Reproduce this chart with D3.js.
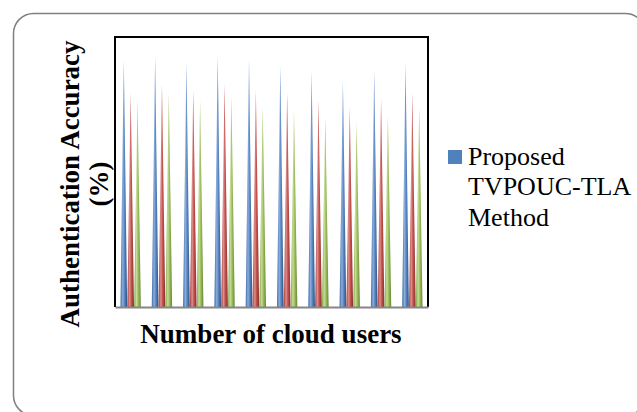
<!DOCTYPE html>
<html>
<head>
<meta charset="utf-8">
<script src="https://cdn.jsdelivr.net/npm/d3@7"></script>
<style>
  html, body { margin: 0; padding: 0; background: #fff; }
  svg { display: block; }
</style>
</head>
<body>
<svg id="chart" width="637" height="412"></svg>
<script>
// Authentication accuracy (%) for ten cloud-user groups, three methods per group
const categories = ["1", "2", "3", "4", "5", "6", "7", "8", "9", "10"];
const seriesNames = ["Proposed TVPOUC-TLA Method", "Method B", "Method C"];
const proposedValues = [91.7, 92.7, 90.5, 93.3, 91.7, 89.3, 87.3, 83.8, 87.5, 90.5];
const methodBValues  = [79.4, 82.6, 80.1, 82.9, 80.4, 79.1, 76.7, 74.2, 77.3, 79.4];
const methodCValues  = [76.7, 79.4, 76.4, 78.1, 74.4, 72.7, 70.3, 68.5, 71.1, 74.0];
const legendEntries = ["Proposed TVPOUC-TLA Method"];
const legendLines = ["Proposed", "TVPOUC-TLA", "Method"];

const seriesValues = [proposedValues, methodBValues, methodCValues];
const seriesColors = [
  ["#3f6ba6", "#8aaedc", "#5a86c2", "#2c4f80"],
  ["#a9403d", "#df8f8c", "#c2514e", "#83302d"],
  ["#86a648", "#c5dd98", "#9cbd5b", "#688535"]
];

const svg = d3.select("#chart");
const serif = "'Liberation Serif', 'Times New Roman', serif";

// outer chart frame
svg.append("rect")
  .attr("x", 13.5).attr("y", 13.5)
  .attr("width", 632).attr("height", 402)
  .attr("rx", 20).attr("ry", 20)
  .attr("fill", "#fff")
  .attr("stroke", "#7f7f7f")
  .attr("stroke-width", 1.5);

const plot = { left: 115, top: 37, right: 428, bottom: 307 };

const x = d3.scaleBand()
  .domain(categories)
  .range([plot.left, plot.right])
  .paddingInner(0.34)
  .paddingOuter(0.17);

const xs = d3.scaleBand()
  .domain(d3.range(seriesValues.length))
  .range([0, x.bandwidth()])
  .padding(0.02);

const y = d3.scaleLinear().domain([0, 100]).range([plot.bottom, plot.top]);

// cone shading gradients
const defs = svg.append("defs");
seriesColors.forEach((c, i) => {
  const g = defs.append("linearGradient")
    .attr("id", "cone" + i)
    .attr("x1", 0).attr("x2", 1).attr("y1", 0).attr("y2", 0);
  [[0, c[0]], [0.35, c[1]], [0.6, c[2]], [1, c[3]]].forEach(([o, col]) =>
    g.append("stop").attr("offset", o).attr("stop-color", col));
});

// cones
const cells = [];
categories.forEach((cat, ci) => {
  seriesValues.forEach((vals, si) => {
    cells.push({ cat, si, v: vals[ci] });
  });
});

svg.append("g").selectAll("path")
  .data(cells)
  .join("path")
  .attr("d", d => {
    const x0 = x(d.cat) + xs(d.si);
    const w = xs.bandwidth();
    return `M${x0},${y(0)}L${x0 + w / 2},${y(d.v)}L${x0 + w},${y(0)}Z`;
  })
  .attr("fill", d => `url(#cone${d.si})`);

// plot area border
svg.append("path")
  .attr("d", `M${plot.left},${plot.bottom}V${plot.top}H${plot.right}V${plot.bottom}`)
  .attr("fill", "none")
  .attr("stroke", "#000")
  .attr("stroke-width", 2);

// category axis line (no tick labels)
const xAxis = d3.axisBottom(x).tickSize(0).tickFormat("");
svg.append("g")
  .attr("transform", `translate(0,${plot.bottom})`)
  .call(xAxis)
  .call(g => g.select(".domain").attr("stroke", "#868686").attr("stroke-width", 2));

// axis titles
svg.append("text")
  .attr("x", 271).attr("y", 343)
  .attr("text-anchor", "middle")
  .attr("font-family", serif)
  .attr("font-weight", "bold")
  .attr("font-size", 27)
  .attr("fill", "#000")
  .text("Number of cloud users");

const yTitle = svg.append("text")
  .attr("transform", "translate(79,184) rotate(-90)")
  .attr("text-anchor", "middle")
  .attr("font-family", serif)
  .attr("font-weight", "bold")
  .attr("font-size", 27)
  .attr("fill", "#000");
yTitle.append("tspan").attr("x", 0).attr("y", 0).text("Authentication Accuracy");
yTitle.append("tspan").attr("x", 0).attr("y", 29).text("(%)");

// legend
const legend = svg.append("g");
legend.append("rect")
  .attr("x", 448).attr("y", 150)
  .attr("width", 14).attr("height", 14)
  .attr("fill", "#4f81bd");
const lt = legend.append("text")
  .attr("font-family", serif)
  .attr("font-size", 26)
  .attr("fill", "#000");
legendLines.forEach((line, i) => {
  lt.append("tspan").attr("x", 468).attr("y", 164.5 + i * 30.5).text(line);
});
</script>
</body>
</html>
